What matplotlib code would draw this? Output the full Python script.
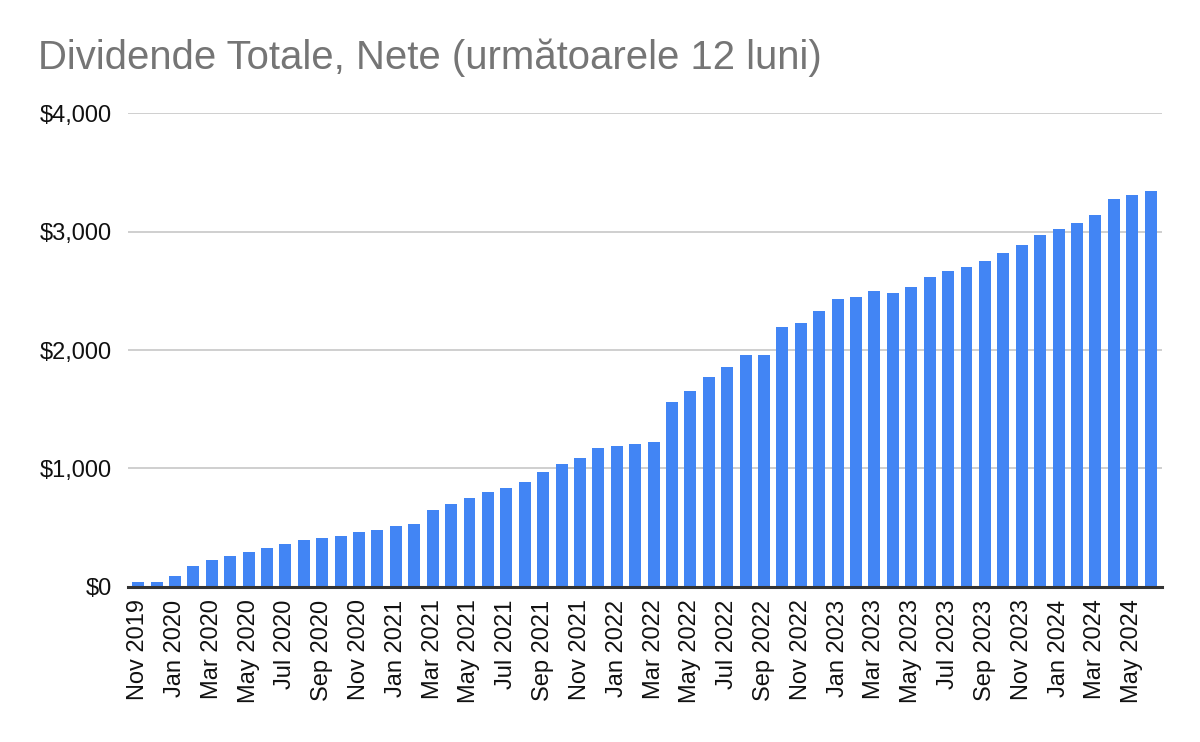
import matplotlib
matplotlib.use('Agg')
import matplotlib.pyplot as plt
import pandas as pd
from matplotlib.ticker import FuncFormatter

plt.rcParams['font.family'] = ['Liberation Sans', 'DejaVu Sans']

# monthly forward 12-month net dividends, Nov 2019 .. Jun 2024
months = pd.date_range('2019-11-01', '2024-06-01', freq='MS')
values = [
    40, 40, 90, 175, 225, 260, 295, 330, 365, 395,
    410, 430, 465, 480, 515, 530, 650, 700, 750, 800,
    833, 885, 970, 1040, 1090, 1175, 1190, 1210, 1225, 1565,
    1650, 1770, 1855, 1955, 1955, 2192, 2226, 2328, 2430, 2447,
    2497, 2480, 2531, 2616, 2667, 2701, 2752, 2819, 2887, 2972,
    3023, 3074, 3142, 3277, 3311, 3345,
]
labels = [m.strftime('%b %Y') for m in months]
title = 'Dividende Totale, Nete (următoarele 12 luni)'

fig = plt.figure(figsize=(12, 7.42), dpi=100)
ax = fig.add_axes([0.1067, 0.2089, 0.968 - 0.1067, 0.8477 - 0.2089])

xs = list(range(len(values)))
ax.bar(xs, values, width=0.65, color='#4285F4', zorder=3)

ax.set_ylim(0, 4000)
ax.set_xlim(-0.55, len(values) - 0.4)
ax.set_yticks([0, 1000, 2000, 3000, 4000])
ax.yaxis.set_major_formatter(FuncFormatter(lambda v, p: f'${v:,.0f}'))
ax.grid(axis='y', color='#cccccc', linewidth=1.3, zorder=0)
ax.set_xticks(xs[::2])
ax.set_xticklabels(labels[::2], rotation=90, va='top', ha='center')

for side in ['top', 'right', 'left']:
    ax.spines[side].set_visible(False)
ax.spines['bottom'].set_color('#333333')
ax.spines['bottom'].set_linewidth(2.2)
ax.spines['bottom'].set_zorder(4)
ax.tick_params(axis='both', length=0, labelsize=17, colors='#111111')
ax.tick_params(axis='y', pad=11.5)
ax.tick_params(axis='x', pad=9)

fig.text(38 / 1200, 1 - 69 / 742, title, fontsize=28.9, color='#757575',
         va='baseline', ha='left')

fig.savefig('out.png', dpi=100, facecolor='white')
